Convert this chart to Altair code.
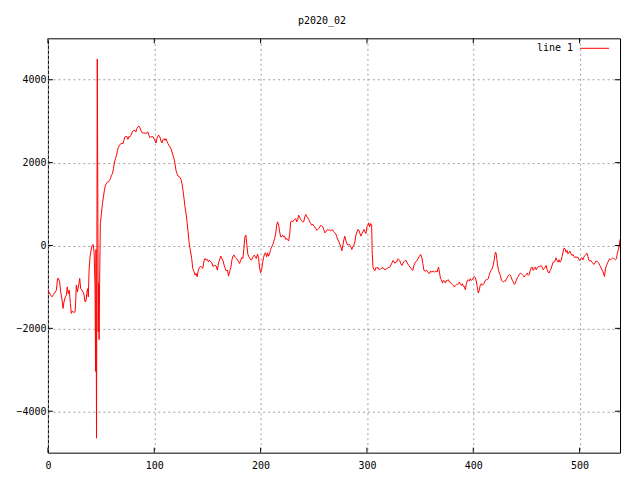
import altair as alt
import pandas as pd

title_text = "p2020_02"
legend_label = "line 1"
x_ticks = [0, 100, 200, 300, 400, 500]
y_ticks = [-4000, -2000, 0, 2000, 4000]

x_vals = [
    0, 2.5, 3.8, 5.3, 6.9, 7.9, 9.1, 10, 11, 12, 13.2, 14.2, 15.1, 16.4, 17.3, 18.2, 19.2, 20.1,
    21.1, 22, 23, 24.5, 25.5, 26.1, 26.7, 27.7, 28.9, 29.9, 30.8, 32.1, 33, 34, 34.9, 35.8, 36.5,
    37.4, 38, 38.7, 39.6, 40.6, 41.5, 42.5, 43.4, 44.3, 44.8, 45.2, 45.7, 46.4, 46.9, 47.3, 47.7,
    48.1, 48.6, 49.3, 50.3, 51.3, 52.2, 53.1, 54.1, 55, 56, 56.9, 57.9, 58.8, 59.7, 60.7, 61.6,
    62.6, 63.5, 64.5, 65.4, 66.4, 67.6, 68.6, 69.5, 70.4, 71.4, 72.3, 73.3, 74.2, 75.2, 76.1, 77,
    78, 78.9, 79.9, 80.8, 81.8, 82.7, 83.6, 84.6, 85.5, 86.5, 87.4, 88.4, 89.3, 90.3, 91.2, 92.1,
    93.1, 94, 95, 95.9, 96.9, 97.8, 98.7, 99.7, 100.6, 101.6, 102.5, 103.5, 104.4, 105.3, 106.3,
    107.2, 108.2, 109.1, 110.1, 111, 111.9, 112.9, 113.8, 114.8, 115.7, 116.7, 117.6, 118.6, 119.5,
    120.4, 121.4, 122.3, 123.3, 124.2, 125.2, 126.1, 127, 128, 128.9, 129.9, 130.8, 131.8, 132.7,
    133.6,
    135.2, 136.2, 137.4, 138.4, 139.3, 140.3, 141.5, 142.5, 143.7, 144.7, 145.6, 146.9, 147.8,
    148.7, 150, 150.9, 151.9, 153.1, 154.1, 155, 156.3, 157.2, 158.2, 159.4, 160.4, 161.3, 162.6,
    163.5, 164.5, 165.7, 166.7, 167.6, 168.9, 169.8, 170.8, 172, 173, 173.9, 175.2, 176.1, 177,
    178.3, 179.2, 180.2, 181.4, 182.4, 183.3, 184.3, 185.2, 186.2, 187.1, 188, 189, 189.9, 190.9,
    191.8, 192.8, 194, 195, 195.9, 197.2, 198.1, 199.1, 200, 201, 201.9, 202.8, 203.8, 204.7,
    205.7, 206.6, 207.5, 208.5, 209.4, 210.4, 211.3, 212.3, 213.2, 214.2, 215.1, 216, 217, 217.9,
    218.9, 219.8, 220.8, 221.7, 222.6, 223.6, 224.5, 225.5, 226.4, 227.4, 228.3, 229.2, 230.2,
    231.1, 232.1, 233, 234, 234.9, 235.8, 236.8, 237.7, 238.7, 239.6, 240.6, 241.5, 242.5, 243.4,
    244.3, 245.3, 246.2, 247.2, 248.1, 249.1, 250, 250.9, 251.9, 252.8, 253.8, 254.7, 255.7,
    256.6, 257.5, 258.5, 259.4, 260.4, 261.3, 262.3, 263.2, 264.2, 265.1, 266, 267, 267.9, 268.9,
    269.8, 270.8, 271.7, 272.6, 273.6, 274.5, 275.5, 276.4, 277.4, 278.3, 279.2, 280.2, 281.1,
    282.1, 283, 284, 284.9, 285.8, 286.8, 287.7, 288.7, 289.6, 290.6, 291.5, 292.5, 293.4, 294.3,
    295.3, 296.2, 297.2, 298.1, 299.1, 300, 300.9, 301.6, 302.5, 303.5, 304.4, 305, 305.7, 306.6,
    307.5, 308.5, 309.4, 310.4, 311.3, 312.3, 313.2,
    315.3, 316.8, 318.4, 319.9, 321.5, 323.1, 324.6, 326.2, 327.7, 329.3, 330.8, 331.8, 333,
    334.3, 335.5, 336.8, 338, 339.3, 340.5, 341.7, 343, 344.2, 345.5, 346.7, 348, 349.2, 350.5,
    351.7, 352.6, 353.6, 354.8, 356.1, 357.3, 358.6, 359.8, 361.1, 362.3, 363.6, 364.8, 366,
    367.3, 368.2, 369.2, 370.1, 371, 372, 372.9, 373.8, 374.8, 375.7, 376.6, 377.6, 378.5, 379.4,
    380.4, 381.3, 382.2, 383.2, 384.1, 385, 386, 386.9, 387.9, 388.8, 389.7, 390.7, 391.6, 392.5,
    393.5, 394.4, 395.3, 396.3, 397.2, 398.1, 399.1, 400, 400.9, 401.9, 402.8, 403.7, 404.7,
    405.6, 406.5, 407.5, 408.4, 409.3, 410.3, 411.2, 412.1, 413.1, 414, 414.9, 415.9, 416.8,
    417.8, 418.7, 419.6, 420.2, 420.9, 421.5, 422.1, 422.7, 423.7, 424.6, 425.5, 426.5, 427.4,
    428.3, 429.3, 430.2, 431.2, 432.1, 433, 434, 434.9, 435.8, 436.8, 437.7, 438.6, 439.6, 440.5,
    441.4, 442.4, 443.3, 444.2, 445.2, 446.1, 447, 448, 448.9, 449.8, 450.8, 451.7, 452.6, 453.6,
    454.5, 455.5, 456.4, 457.3, 458.3, 459.2, 460.1, 461.1, 462, 462.9, 463.9, 464.8, 465.7,
    466.7, 467.6, 468.5, 469.5, 470.4, 471.3, 472.3, 473.2, 474.1, 475.1, 476, 476.9, 477.9,
    478.8, 479.8, 480.7, 481.6, 482.6, 483.5, 484.4, 485.4, 486.3, 487.2, 488.2, 489.1, 490, 491,
    491.9, 492.8, 493.8, 494.7, 495.6, 496.6, 497.5, 498.4, 499.4, 500.3, 501.2, 502.2, 503.1,
    504, 505, 505.9, 506.9, 507.8, 508.7, 509.7, 510.6, 511.5, 512.5, 513.4, 514.3, 515.3, 516.2,
    517.1, 518.1, 519, 519.9, 520.9, 521.8, 522.7, 523.4, 524.3, 525.3, 526.2, 527.1, 528.1, 529,
    529.9, 530.9, 531.8, 532.7, 533.7, 534.6, 535.5, 536.4, 537.4, 538,
]

y_vals = [
    -1076, -1200, -1240, -1180, -1120, -1080, -795, -795, -875, -1120, -1300, -1520, -1360, -1240,
    -1200, -1000, -1160, -1080, -1400, -1640, -1580, -1620, -1600, -1360, -955, -1120, -955, -795,
    -1040, -1080, -1120, -1200, -1360, -1340, -1160, -1040, -1240, -595, -270, -110, 0, 25, -150,
    -1000, -3040, -100, -4650, 4500, 1270, -2080, -900, -2270, -915, 530, 770, 1012, 1173, 1333,
    1454, 1494, 1534, 1534, 1574, 1614, 1695, 1735, 1855, 2016, 2096, 2177, 2297, 2378, 2434, 2450,
    2474, 2450, 2538, 2618, 2630, 2630, 2562, 2630, 2618, 2659, 2715, 2763, 2779, 2779, 2740, 2819,
    2859, 2884, 2843, 2779, 2723, 2715, 2715, 2715, 2700, 2723, 2740, 2659, 2602, 2630, 2618, 2630,
    2578, 2538, 2474, 2578, 2650, 2659, 2618, 2522, 2474, 2554, 2578, 2538, 2578, 2514, 2458, 2418,
    2378, 2337, 2257, 2177, 2096, 1976, 1815, 1735, 1679, 1660, 1643, 1590, 1494, 1333, 1133, 932,
    771, 570, 329, 88, -72,
    -313, -554, -634, -715, -675, -755, -594, -530, -498, -530, -554, -353, -313, -353, -337, -393,
    -353, -393, -418, -498, -498, -474, -498, -594, -418, -353, -257, -313, -353, -474, -554, -610,
    -594, -739, -634, -530, -353, -257, -233, -289, -313, -337, -393, -434, -353, -289, -313, -72,
    209, 249, 8, -209, -273, -313, -353, -337, -273, -233, -273, -313, -209, -313, -554, -658, -578,
    -418, -289, -193, -177, -273, -177, -257, -193, -96, -32, 8, 88, 169, 289, 490, 570, 490, 329,
    209, 209, 249, 209, 225, 145, 169, 128, 112, 289, 570, 594, 570, 610, 626, 650, 570, 626, 731,
    675, 626, 594, 570, 570, 691, 747, 691, 675, 626, 570, 530, 490, 514, 466, 450, 410, 369, 385,
    410, 450, 490, 466, 450, 385, 305, 329, 369, 385, 369, 369, 353, 385, 369, 329, 305, 273, 209,
    145, 88, 32, -32, -128, 8, 145, 225, 112, 48, 8, 32, 8, -32, -96, -32, 8, 88, 249, 329, 385,
    369, 289, 225, 289, 329, 385, 329, 289, 450, 490, 546, 450, 530, 490, -193, -530, -578, -610,
    -530, -554, -530, -578, -578, -554,
    -538, -586, -562, -538, -522, -442, -361, -426, -402, -321, -361, -442, -482, -402, -377, -361,
    -426, -482, -522, -562, -602, -482, -402, -377, -321, -265, -217, -297, -442, -602, -618, -602,
    -642, -683, -618, -642, -618, -642, -618, -642, -522, -642, -803, -827, -907, -843, -859, -907,
    -843, -843, -827, -883, -883, -923, -940, -964, -1004, -964, -940, -940, -923, -883, -940, -964,
    -923, -988, -988, -1068, -923, -843, -827, -859, -803, -843, -827, -779, -747, -779, -859, -988,
    -1148, -1084, -964, -923, -964, -940, -907, -843, -827, -827, -803, -723, -642, -602, -562,
    -482, -361, -241, -161, -185, -321, -442, -602, -666, -723, -843, -859, -883, -859, -859, -803,
    -763, -723, -699, -723, -779, -843, -883, -940, -907, -843, -779, -747, -699, -666, -683, -699,
    -723, -763, -723, -699, -666, -723, -699, -602, -538, -522, -602, -562, -522, -586, -538, -506,
    -522, -506, -482, -522, -586, -562, -522, -482, -586, -642, -666, -602, -562, -482, -402, -402,
    -377, -297, -361, -402, -345, -402, -361, -265, -161, -64, -80, -161, -120, -201, -161, -137,
    -201, -241, -217, -265, -297, -265, -297, -281, -345, -361, -321, -297, -345, -281, -241, -217,
    -185, -265, -361, -377, -361, -402, -426, -458, -426, -377, -377, -402, -426, -482, -522, -586,
    -618, -699, -747, -562, -482, -426, -377, -321, -345, -321, -297, -321, -321, -345, -321, -185,
    -104, 0, 150,
]

W, H = 573, 415
FONT = "DejaVu Sans Mono"

df = pd.DataFrame({"x": x_vals, "y": y_vals})
xt = pd.DataFrame({"x": x_ticks})
yt = pd.DataFrame({"y": y_ticks})
leg = pd.DataFrame({"label": [legend_label]})

xs = alt.Scale(domain=[0, 538], nice=False, zero=False)
ys = alt.Scale(domain=[-5000, 5000], nice=False, zero=False)

axis_common = dict(
    title=None, grid=True, ticks=False, tickSize=0, domain=False, format="d",
    labelFont=FONT, labelFontSize=10, labelColor="black",
    gridColor="#a0a0a0", gridDash=[2, 3], gridWidth=1, labelFlush=False,
)
x_axis = alt.Axis(values=x_ticks, labelPadding=8, **axis_common)
y_axis = alt.Axis(values=y_ticks, labelPadding=2, **axis_common)

line = alt.Chart(df).mark_line(color="#ff0000", strokeWidth=1, clip=True).encode(
    x=alt.X("x:Q", scale=xs, axis=x_axis),
    y=alt.Y("y:Q", scale=ys, axis=y_axis),
)

tick_len = 5
bottom = alt.Chart(xt).mark_rule(color="black", strokeWidth=1).encode(
    x=alt.X("x:Q", scale=xs, axis=x_axis), y=alt.value(H), y2=alt.value(H - tick_len))
top = alt.Chart(xt).mark_rule(color="black", strokeWidth=1).encode(
    x=alt.X("x:Q", scale=xs, axis=x_axis), y=alt.value(0), y2=alt.value(tick_len))
left = alt.Chart(yt).mark_rule(color="black", strokeWidth=1).encode(
    y=alt.Y("y:Q", scale=ys, axis=y_axis), x=alt.value(0), x2=alt.value(tick_len))
right = alt.Chart(yt).mark_rule(color="black", strokeWidth=1).encode(
    y=alt.Y("y:Q", scale=ys, axis=y_axis), x=alt.value(W - tick_len), x2=alt.value(W))

leg_text = alt.Chart(leg).mark_text(
    align="right", baseline="middle", font=FONT, fontSize=10, color="black"
).encode(x=alt.value(526), y=alt.value(10), text="label:N")
leg_line = alt.Chart(leg).mark_rule(color="#ff0000", strokeWidth=1).encode(
    x=alt.value(533), x2=alt.value(562), y=alt.value(10))

chart = alt.layer(line, bottom, top, left, right, leg_text, leg_line).properties(
    width=W, height=H,
    title=alt.TitleParams(text=title_text, font=FONT, fontSize=10, fontWeight="normal",
                          color="black", anchor="middle", dx=-12, offset=12),
    autosize=alt.AutoSizeParams(type="none"),
    padding={"left": 40, "top": 30, "right": 12, "bottom": 19},
    background="white",
).configure_view(stroke="black", strokeWidth=1)

chart.save("out.html", embed_options={"renderer": "svg", "actions": False})
